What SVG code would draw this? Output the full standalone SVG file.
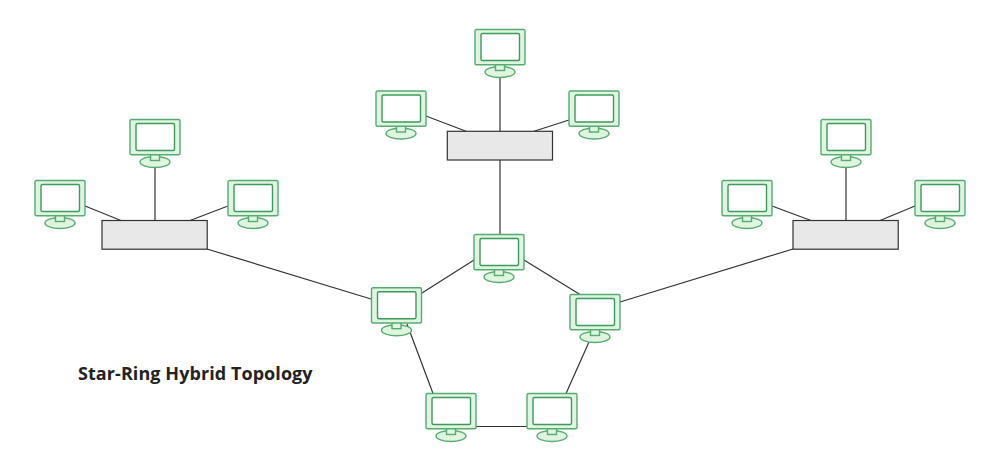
<svg xmlns="http://www.w3.org/2000/svg" width="1000" height="470" viewBox="0 0 1000 470">
<style>
.bg{fill:#fff}
.edge{stroke:#333;stroke-width:1.2;fill:none}
.fr{fill:#e0f5e0;stroke:#55ab70;stroke-width:1.4}
.scr{fill:#fff;stroke:#3d9a5c;stroke-width:1.4}
.sw{fill:#e8e8e8;stroke:#333;stroke-width:1.2}
.title{font-family:"Open Sans","Noto Sans",sans-serif;font-weight:700;font-size:18px;letter-spacing:.07px;fill:#222}
</style>
<defs>
<g id="pc">
<ellipse class="fr" cx="0" cy="42.5" rx="15" ry="5.5"/>
<rect class="fr" x="-4.5" y="34" width="9" height="7"/>
<rect class="fr" x="-25" y="0" width="50" height="35.3" rx="1.5"/>
<rect class="scr" x="-19" y="4" width="38.5" height="27" rx="1.5"/>
</g>
</defs>
<rect class="bg" width="1000" height="470"/>
<g id="connectors">
<line class="edge" x1="426" y1="116" x2="466" y2="131.3"/>
<line class="edge" x1="500" y1="77" x2="500" y2="131.3"/>
<line class="edge" x1="569" y1="120" x2="534" y2="131.3"/>
<line class="edge" x1="500" y1="160" x2="500" y2="234.5"/>
<line class="edge" x1="85" y1="206" x2="121" y2="220.5"/>
<line class="edge" x1="155" y1="167" x2="155" y2="220.5"/>
<line class="edge" x1="228" y1="206" x2="190" y2="220.5"/>
<line class="edge" x1="772" y1="206" x2="811" y2="220.5"/>
<line class="edge" x1="846" y1="167" x2="846" y2="220.5"/>
<line class="edge" x1="915" y1="206" x2="880" y2="220.5"/>
<line class="edge" x1="207" y1="249" x2="371" y2="299"/>
<line class="edge" x1="793" y1="249" x2="620" y2="302"/>
<line class="edge" x1="422" y1="293" x2="474" y2="260"/>
<line class="edge" x1="524" y1="260" x2="580" y2="294.5"/>
<line class="edge" x1="407" y1="324" x2="433" y2="393.5"/>
<line class="edge" x1="589" y1="342" x2="566" y2="393.5"/>
<line class="edge" x1="476" y1="426.5" x2="527" y2="426.5"/>
</g>
<g id="switch-top"><rect class="sw" x="447.3" y="131.3" width="105.2" height="28.7"/></g>
<g id="switch-left"><rect class="sw" x="102" y="220.5" width="105.2" height="28.7"/></g>
<g id="switch-right"><rect class="sw" x="793" y="220.5" width="105.2" height="28.7"/></g>
<g id="pc-top-1"><use href="#pc" x="500" y="29.5"/></g>
<g id="pc-top-2"><use href="#pc" x="401" y="91"/></g>
<g id="pc-top-3"><use href="#pc" x="594" y="91"/></g>
<g id="pc-left-1"><use href="#pc" x="155" y="119.5"/></g>
<g id="pc-left-2"><use href="#pc" x="60" y="180.5"/></g>
<g id="pc-left-3"><use href="#pc" x="253" y="180.5"/></g>
<g id="pc-right-1"><use href="#pc" x="846" y="119.5"/></g>
<g id="pc-right-2"><use href="#pc" x="747" y="180.5"/></g>
<g id="pc-right-3"><use href="#pc" x="940" y="180.5"/></g>
<g id="ring-1"><use href="#pc" x="499" y="234.5"/></g>
<g id="ring-2"><use href="#pc" x="396.5" y="287.7"/></g>
<g id="ring-3"><use href="#pc" x="595" y="294.5"/></g>
<g id="ring-4"><use href="#pc" x="451" y="393.5"/></g>
<g id="ring-5"><use href="#pc" x="552" y="393.5"/></g>
<text class="title" x="78" y="380">Star-Ring Hybrid Topology</text>
</svg>
